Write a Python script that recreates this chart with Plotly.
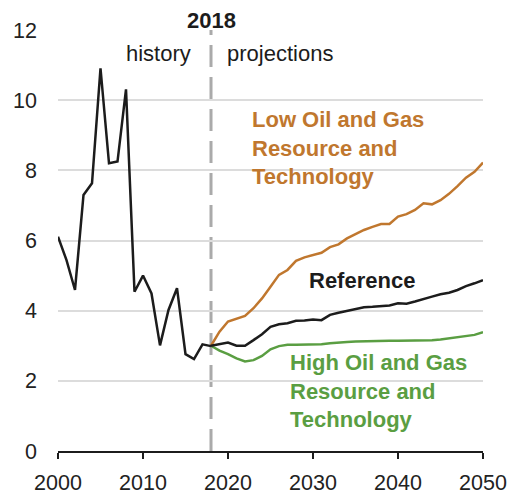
import plotly.graph_objects as go

# Natural gas price, history and projections by case
hist_years = list(range(2000, 2019))
hist_values = [6.11, 5.44, 4.59, 7.30, 7.63, 10.91, 8.20, 8.25, 10.31, 4.54,
               5.00, 4.49, 3.01, 4.02, 4.64, 2.76, 2.62, 3.04, 2.99]

proj_years = list(range(2018, 2051))
reference = [3.00, 3.05, 3.09, 3.00, 3.00, 3.16, 3.33, 3.54, 3.61, 3.64,
             3.71, 3.72, 3.75, 3.73, 3.88, 3.94, 3.99, 4.04, 4.10, 4.11,
             4.13, 4.15, 4.21, 4.20, 4.26, 4.32, 4.40, 4.47, 4.51, 4.59,
             4.70, 4.78, 4.87]
low_resource = [3.00, 3.40, 3.69, 3.78, 3.85, 4.07, 4.35, 4.68, 5.02, 5.16,
                5.42, 5.52, 5.59, 5.65, 5.81, 5.89, 6.06, 6.19, 6.30, 6.39,
                6.47, 6.47, 6.68, 6.75, 6.87, 7.06, 7.03, 7.15, 7.33, 7.55,
                7.79, 7.96, 8.22]
high_resource = [3.00, 2.86, 2.76, 2.64, 2.55, 2.59, 2.71, 2.90, 2.99, 3.03,
                 3.03, 3.03, 3.03, 3.04, 3.07, 3.10, 3.11, 3.12, 3.13, 3.13,
                 3.13, 3.14, 3.14, 3.14, 3.14, 3.15, 3.16, 3.18, 3.21, 3.24,
                 3.29, 3.31, 3.39]

x_ticks = [2000, 2010, 2020, 2030, 2040, 2050]
y_ticks = [0, 2, 4, 6, 8, 10, 12]

BLACK = "#1c1c1c"
ORANGE = "#C0772E"
GREEN = "#5A9E42"
FONT = "Arial, Liberation Sans, sans-serif"

fig = go.Figure()
fig.add_trace(go.Scatter(x=proj_years, y=high_resource, mode="lines",
                         line=dict(color=GREEN, width=2.5)))
fig.add_trace(go.Scatter(x=proj_years, y=low_resource, mode="lines",
                         line=dict(color=ORANGE, width=2.5)))
fig.add_trace(go.Scatter(x=proj_years, y=reference, mode="lines",
                         line=dict(color=BLACK, width=2.5)))
fig.add_trace(go.Scatter(x=hist_years, y=hist_values, mode="lines",
                         line=dict(color=BLACK, width=2.5)))

# history / projections divider
fig.add_shape(type="line", xref="x", yref="paper", x0=2018, x1=2018, y0=0, y1=1,
              line=dict(color="#AAAAAA", width=3, dash="22px,10px"), layer="below")

# year label above the plot area (paper coordinates so it is not clipped)
fig.add_annotation(x=2018, y=1.0, xref="x", yref="paper", yshift=10,
                   text="<b>2018</b>", showarrow=False, xanchor="center",
                   yanchor="middle", font=dict(family=FONT, size=22, color=BLACK))

ann = [
    dict(text="history", x=2015.9, y=11.34, xanchor="right", color=BLACK),
    dict(text="projections", x=2019.7, y=11.34, xanchor="left", color=BLACK),
    dict(text="<b>Low Oil and Gas<br>Resource and<br>Technology</b>",
         x=2022.6, y=8.64, xanchor="left", color=ORANGE),
    dict(text="<b>Reference</b>", x=2029.35, y=4.87, xanchor="left", color=BLACK),
    dict(text="<b>High Oil and Gas<br>Resource and<br>Technology</b>",
         x=2027.0, y=1.71, xanchor="left", color=GREEN),
]
for a in ann:
    fig.add_annotation(x=a["x"], y=a["y"], xref="x", yref="y", text=a["text"],
                       showarrow=False, xanchor=a["xanchor"], yanchor="middle",
                       align="left", font=dict(family=FONT, size=22, color=a["color"]))

fig.update_layout(
    width=512, height=494,
    margin=dict(l=58, r=29, t=30, b=43, autoexpand=False),
    paper_bgcolor="white", plot_bgcolor="white",
    showlegend=False,
    font=dict(family=FONT, size=21, color="#222222"),
    xaxis=dict(range=[2000, 2050], tickvals=x_ticks, showgrid=False, zeroline=False,
               showline=True, linecolor=BLACK, linewidth=2, automargin=False,
               ticks="outside", ticklen=6, tickwidth=2, tickcolor=BLACK,
               ticklabelstandoff=5, tickfont=dict(size=21.5)),
    yaxis=dict(range=[0, 12], tickvals=y_ticks, showgrid=True, gridcolor="#DCDCDC",
               gridwidth=1.5, zeroline=False, showline=False, ticks="",
               automargin=False, ticklabelstandoff=20, tickfont=dict(size=21.5)),
)

fig.write_html("out.html")
